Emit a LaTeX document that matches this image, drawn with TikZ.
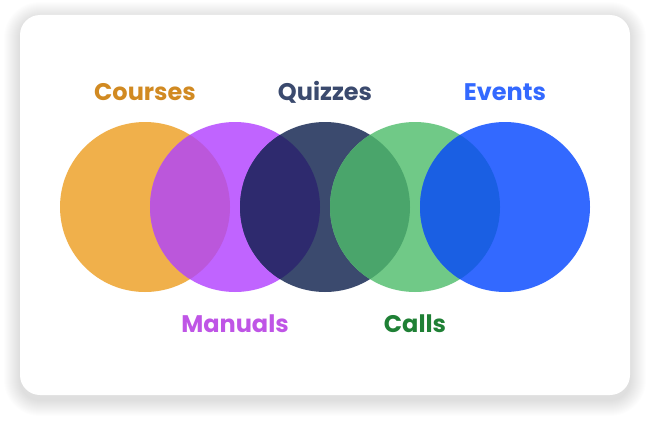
\documentclass[tikz,border=0pt]{standalone}
\usepackage{fontspec}
\setmainfont{Poppins}
\usepackage{tikz}

\definecolor{courseC}{HTML}{F0B04B}
\definecolor{manualC}{HTML}{C064FF}
\definecolor{quizC}{HTML}{3B4A6E}
\definecolor{callC}{HTML}{70C987}
\definecolor{eventC}{HTML}{3369FF}
\definecolor{cmC}{HTML}{BB57DB}
\definecolor{mqC}{HTML}{2E2A6E}
\definecolor{qcC}{HTML}{4AA56B}
\definecolor{ceC}{HTML}{1A5FE3}
\definecolor{courseT}{HTML}{D18A22}
\definecolor{manualT}{HTML}{BF55E6}
\definecolor{callT}{HTML}{1F8035}

\tikzset{
  lbl/.style={anchor=base,font=\fontsize{24}{24}\selectfont\bfseries},
}

\begin{document}
\begin{tikzpicture}[x=1pt,y=-1pt]
\useasboundingbox (0,0) rectangle (650,420);
\fill[white] (0,0) rectangle (650,420);

% card with soft shadow
\foreach \i in {1,...,16}
  \fill[black,opacity=0.006,rounded corners=20+\i] (20-\i,18-\i) rectangle (630+\i,400+\i);
\fill[white,rounded corners=20] (20,15) rectangle (630,395);

% circles
\coordinate (c1) at (145,207);
\coordinate (c2) at (235,207);
\coordinate (c3) at (325,207);
\coordinate (c4) at (415,207);
\coordinate (c5) at (505,207);

\fill[courseC] (c1) circle (85);
\fill[manualC] (c2) circle (85);
\fill[quizC]   (c3) circle (85);
\fill[callC]   (c4) circle (85);
\fill[eventC]  (c5) circle (85);

% overlaps
\begin{scope}
\clip (c1) circle (85);
\fill[cmC] (c2) circle (85);
\end{scope}
\begin{scope}
\clip (c2) circle (85);
\fill[mqC] (c3) circle (85);
\end{scope}
\begin{scope}
\clip (c3) circle (85);
\fill[qcC] (c4) circle (85);
\end{scope}
\begin{scope}
\clip (c4) circle (85);
\fill[ceC] (c5) circle (85);
\end{scope}

% labels
\node[lbl,text=courseT] (courses) at (145,100) {Courses};
\node[lbl,text=quizC]   (quizzes) at (325,100) {Quizzes};
\node[lbl,text=eventC]  (events)  at (505,100) {Events};
\node[lbl,text=manualT] (manuals) at (235,332) {Manuals};
\node[lbl,text=callT]   (calls)   at (415,332) {Calls};

\end{tikzpicture}
\end{document}
